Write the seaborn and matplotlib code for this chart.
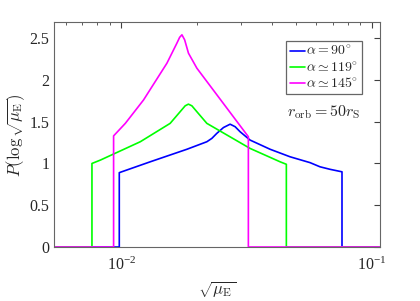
import numpy as np
import pandas as pd
import matplotlib
matplotlib.use('Agg')
import matplotlib.pyplot as plt
import seaborn as sns
from matplotlib.lines import Line2D
from matplotlib.ticker import LogLocator, NullFormatter

# values (sqrt(mu_E) vs P(log sqrt(mu_E)))
x_90 = [0.0054, 0.00982, 0.00982, 0.01305, 0.01828, 0.02195, 0.02298, 0.02405, 0.02557, 0.02718,
        0.02846, 0.02978, 0.03265, 0.03924, 0.04713, 0.05662, 0.06207, 0.06803, 0.07596, 0.07596, 0.108]
y_90 = [0, 0, 0.89, 1.02, 1.17, 1.26, 1.30, 1.36, 1.43, 1.47,
        1.44, 1.38, 1.28, 1.17, 1.08, 1.01, 0.96, 0.93, 0.90, 0, 0]

x_119 = [0.0054, 0.00764, 0.00764, 0.00825, 0.01191, 0.01567, 0.01718, 0.01799, 0.01853, 0.01913,
         0.02002, 0.02195, 0.03265, 0.04300, 0.04556, 0.04556, 0.108]
y_119 = [0, 0, 1.00, 1.04, 1.26, 1.48, 1.62, 1.69, 1.71, 1.69, 1.62, 1.48, 1.18, 1.02, 0.99, 0, 0]

x_145 = [0.0054, 0.00932, 0.00932, 0.01038, 0.01227, 0.01521, 0.01667, 0.01710, 0.01746, 0.01790,
         0.01854, 0.02003, 0.03214, 0.03214, 0.108]
y_145 = [0, 0, 1.33, 1.48, 1.76, 2.20, 2.44, 2.51, 2.54, 2.48, 2.32, 2.14, 1.32, 0, 0]

labels = [r'$\alpha = 90^{\circ}$', r'$\alpha \simeq 119^{\circ}$', r'$\alpha \simeq 145^{\circ}$']
colors = ['#0000ff', '#00ff00', '#ff00ff']

frames = []
for xs, ys, lab in zip([x_90, x_119, x_145], [y_90, y_119, y_145], labels):
    frames.append(pd.DataFrame({'mu': xs, 'P': ys, 'alpha': lab}))
df = pd.concat(frames, ignore_index=True)

sns.set_style('white')
plt.rcParams['font.family'] = ['Liberation Serif', 'DejaVu Serif']
plt.rcParams['mathtext.fontset'] = 'cm'

fig = plt.figure(figsize=(4.2, 3.01), dpi=100)
ax = fig.add_axes([0.129, 0.1794, 0.7765, 0.7466])

sns.lineplot(data=df, x='mu', y='P', hue='alpha', palette=dict(zip(labels, colors)),
             sort=False, estimator=None, legend=False, linewidth=1.2, ax=ax)

ax.set_xscale('log')
ax.set_xlim(0.0054, 0.108)
ax.set_ylim(0, 2.69)
ax.set_yticks([0, 0.5, 1, 1.5, 2, 2.5])
ax.set_yticklabels(['0', '0.5', '1', '1.5', '2', '2.5'])
ax.xaxis.set_major_locator(LogLocator(base=10))
ax.xaxis.set_minor_locator(LogLocator(base=10, subs=np.arange(2, 10)))
ax.xaxis.set_minor_formatter(NullFormatter())

ax.tick_params(which='both', direction='in', top=True, right=True, colors='0.25',
               labelcolor='0.15', labelsize=11.5)
ax.tick_params(which='major', length=4, width=0.8)
ax.tick_params(which='minor', length=2.5, width=0.6)
ax.tick_params(axis='x', pad=7)
for s in ax.spines.values():
    s.set_color('0.4')
    s.set_linewidth(0.8)

ax.set_xlabel(r'$\sqrt{\mu_{\rm E}}$', fontsize=12, labelpad=4, color='0.15')
ax.set_ylabel(r'$P(\log\sqrt{\mu_{\rm E}})$', fontsize=12, labelpad=2, color='0.15')

handles = [Line2D([], [], color=c, lw=1.2) for c in colors]
leg = ax.legend(handles, labels, loc='upper left', bbox_to_anchor=(0.711, 0.918),
                borderaxespad=0, fontsize=10, handlelength=1.1, handletextpad=0.1,
                labelspacing=0.15, borderpad=0.25, fancybox=False, framealpha=1)
leg.get_frame().set_edgecolor('0.4')
leg.get_frame().set_linewidth(0.9)

ax.text(0.825, 0.6, r'$r_{\rm orb} = 50 r_{\rm S}$', transform=ax.transAxes,
        ha='center', va='center', fontsize=11.5, color='0.15')

fig.savefig('out.png', dpi=100)
